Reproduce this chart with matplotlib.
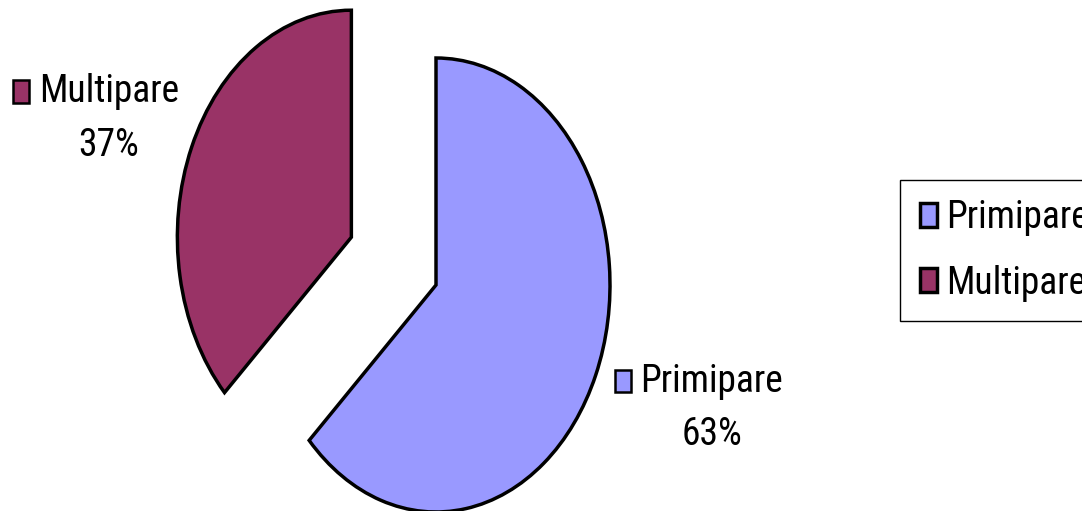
import os
import numpy as np
import matplotlib.pyplot as plt
from matplotlib import font_manager
from matplotlib.font_manager import FontProperties
from matplotlib.patches import Rectangle
from matplotlib.offsetbox import AnnotationBbox, DrawingArea

categories = ["Primipare", "Multipare"]
shares = [63, 37]
colors = ["#9999FF", "#993366"]
explode = [0, 0.53]

# where each label's text centre sits, relative to its wedge edge (points)
label_offsets = [(72, -17), (-48, 14)]


def narrow_font():
    # the original uses a narrow Arial; take a condensed sans if one exists
    prefs = ["LiberationSansNarrow-Regular", "ArialNarrow", "RobotoCondensed-Regular",
             "NotoSans-Condensed", "NotoSans-CondensedRegular",
             "OpenSans-CondensedRegular", "OpenSansCondensed-Regular"]
    files = {os.path.splitext(os.path.basename(f.fname))[0]: f.fname
             for f in font_manager.fontManager.ttflist}
    for p in prefs:
        if p in files:
            return files[p]
    return None


path = narrow_font()
if path:
    fsize = 27
    fp = FontProperties(fname=path, size=fsize)
else:
    fsize = 24.5
    fp = FontProperties(family=["Liberation Sans", "DejaVu Sans"], size=fsize)
fpx = fsize * 100 / 72

fig = plt.figure(figsize=(10.82, 5.11), dpi=100)
ax = fig.add_axes([0, 0, 1, 1])

wedges, _ = ax.pie(shares, colors=colors, explode=explode, startangle=90,
                   counterclock=False,
                   wedgeprops=dict(edgecolor="black", linewidth=2.5))
# the pie is drawn stretched vertically, like the original
ax.set_aspect("auto")
ax.set_xlim(-436 / 174, (1082 - 436) / 174)
ax.set_ylim(-226 / 227, 285 / 227)
ax.axis("off")

for w, name, pct, col, off in zip(wedges, categories, shares, colors, label_offsets):
    ang = np.deg2rad((w.theta1 + w.theta2) / 2)
    cx, cy = w.center
    xy = (cx + 1.1 * np.cos(ang), cy + 1.1 * np.sin(ang))
    txt = ax.annotate(f"{name}\n{pct}%", xy=xy, xytext=off,
                      textcoords="offset points", ha="center", va="center",
                      fontproperties=fp, linespacing=54 / (0.92 * fpx))
    key = DrawingArea(11.5, 16, 0, 0)
    key.add_artist(Rectangle((0, 0), 11.5, 16, facecolor=col,
                             edgecolor="black", linewidth=1.8))
    ab = AnnotationBbox(key, (0, 0.8), xycoords=txt, xybox=(-7, 0),
                        boxcoords="offset points", box_alignment=(1, 0.5),
                        frameon=False, pad=0)
    ax.add_artist(ab)

leg = fig.legend(wedges, categories, loc="upper left",
                 bbox_to_anchor=(900 / 1082, 1 - 180 / 511),
                 borderaxespad=0, prop=fp, frameon=True, fancybox=False,
                 edgecolor="black", framealpha=1,
                 handlelength=17 / fpx, handleheight=23 / fpx,
                 handletextpad=0.25, labelspacing=28 / fpx, borderpad=0.52)
leg.get_frame().set_linewidth(1)

fig.savefig("out.png", dpi=100)
